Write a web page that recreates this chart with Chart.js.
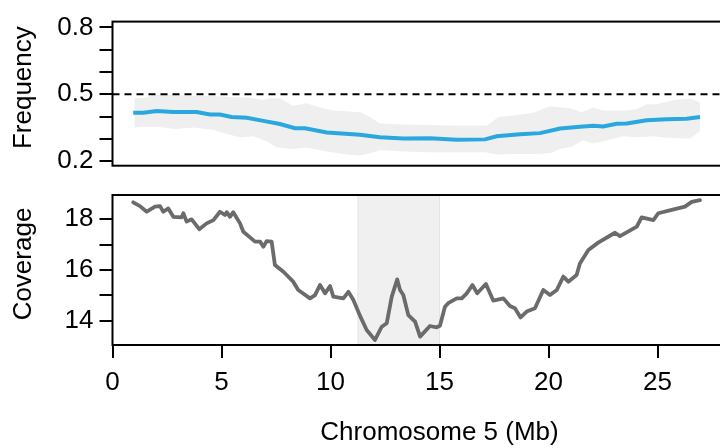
<!DOCTYPE html>
<html>
<head>
<meta charset="utf-8">
<script src="https://cdn.jsdelivr.net/npm/chart.js@4.4.1/dist/chart.umd.min.js"></script>
<style>
html,body{margin:0;padding:0;background:#fff;overflow:hidden;width:720px;height:448px;}
canvas{position:absolute;left:0;top:0;}
</style>
</head>
<body>
<canvas id="topChart" width="800" height="448"></canvas>
<canvas id="botChart" width="800" height="448"></canvas>
<script>
// ---------- data ----------
const X_TICKS = [0, 5, 10, 15, 20, 25];
const X_TITLE = 'Chromosome 5 (Mb)';

const FREQ_TITLE = 'Frequency';
const FREQ_TICKS = [0.2, 0.3, 0.4, 0.5, 0.6, 0.7, 0.8];
const FREQ_LABELED = [0.2, 0.5, 0.8];
const FREQ_THRESHOLD = 0.5;

const FREQ_X = [0.95,1.41,2.03,2.79,3.86,4.47,4.93,5.46,6.16,6.92,7.68,8.37,8.83,9.83,11.35,12.27,13.34,14.56,15.79,17.09,17.62,18.69,19.61,20.53,21.44,22.06,22.51,23.13,23.59,24.5,25.42,26.34,26.95];
const FREQ_MEAN = [0.417,0.417,0.425,0.421,0.421,0.410,0.409,0.398,0.395,0.381,0.367,0.348,0.348,0.329,0.319,0.308,0.302,0.303,0.296,0.298,0.312,0.321,0.326,0.347,0.355,0.359,0.356,0.368,0.369,0.384,0.388,0.391,0.398];

const BAND_UP_X = [1.0,1.41,2.03,2.79,3.4,4.93,5.54,6.3,6.92,7.22,7.68,8.29,8.9,9.52,10.12,11.35,11.81,12.27,13.34,14.56,15.79,17.17,17.7,18.39,19.3,20.07,20.99,21.52,22.06,22.51,23.59,24.05,24.5,24.97,25.88,26.49,26.95];
const BAND_UP = [0.484,0.484,0.499,0.499,0.494,0.491,0.487,0.485,0.474,0.484,0.481,0.449,0.460,0.441,0.427,0.420,0.398,0.369,0.365,0.362,0.359,0.359,0.398,0.405,0.417,0.446,0.437,0.420,0.441,0.427,0.427,0.434,0.455,0.455,0.477,0.481,0.463];

const BAND_LO_X = [1.0,1.41,2.03,2.94,3.7,4.62,5.23,5.85,6.46,7.07,7.53,8.29,8.9,9.83,10.75,11.35,11.81,12.27,13.34,14.56,15.79,17.09,17.62,18.54,19.61,20.14,20.53,21.06,21.59,22.06,22.51,23.43,24.05,24.81,25.42,26.49,26.95];
const BAND_LO = [0.351,0.355,0.355,0.345,0.351,0.341,0.322,0.308,0.312,0.290,0.262,0.255,0.262,0.244,0.230,0.226,0.236,0.250,0.244,0.240,0.240,0.240,0.230,0.233,0.232,0.238,0.255,0.265,0.294,0.279,0.290,0.312,0.308,0.312,0.305,0.302,0.334];

const COV_TITLE = 'Coverage';
const COV_TICKS = [14, 15, 16, 17, 18];
const COV_LABELED = [14, 16, 18];
const COV_REGION = [11.26, 15.0];

const COV_X = [0.95,1.26,1.57,1.95,2.18,2.33,2.56,2.79,3.17,3.25,3.40,3.63,3.98,4.32,4.63,4.93,5.16,5.24,5.39,5.54,5.85,6.00,6.54,6.77,6.92,7.07,7.30,7.45,7.84,8.29,8.52,9.06,9.29,9.52,9.75,9.98,10.13,10.59,10.82,11.05,11.35,11.66,12.04,12.35,12.58,12.81,13.06,13.19,13.34,13.57,13.88,14.11,14.56,14.87,15.02,15.25,15.40,15.79,16.02,16.25,16.51,16.73,17.13,17.47,17.93,18.23,18.46,18.72,19.00,19.38,19.76,20.07,20.38,20.68,20.91,21.29,21.44,21.83,22.28,23.05,23.28,24.05,24.27,24.81,25.04,25.65,26.26,26.57,26.95];
const COV = [18.67,18.52,18.30,18.50,18.52,18.30,18.43,18.10,18.08,18.24,17.91,18.00,17.61,17.84,17.97,18.30,18.17,18.28,18.10,18.28,17.84,17.51,17.12,17.12,16.92,17.14,17.12,16.20,15.93,15.54,15.21,14.88,15.01,15.41,15.08,15.37,14.95,14.88,15.14,14.82,14.20,13.63,13.24,13.76,13.90,14.95,15.63,15.21,15.01,14.22,13.96,13.37,13.79,13.74,13.80,14.55,14.69,14.88,14.88,15.08,15.41,15.08,15.45,14.79,14.88,14.58,14.49,14.13,14.36,14.49,15.21,15.01,15.21,15.74,15.54,15.80,16.26,16.79,17.08,17.47,17.34,17.71,18.08,17.97,18.24,18.37,18.50,18.69,18.76];

// ---------- helpers ----------
const pts = (xs, ys) => xs.map((x, i) => ({x: x, y: ys[i]}));
const FONT = {family: '"Liberation Sans", Arial, Helvetica, sans-serif', size: 26};
const X_MIN = 0, X_MAX = 30;

const boxPlugin = {
  id: 'boxPlugin',
  afterDraw(chart) {
    const a = chart.chartArea, ctx = chart.ctx;
    ctx.save();
    ctx.strokeStyle = '#000';
    ctx.lineWidth = 2;
    ctx.strokeRect(a.left, a.top, a.right - a.left, a.bottom - a.top);
    ctx.restore();
  }
};

// vertical y-axis title, drawn beside the panel
const yTitlePlugin = {
  id: 'yTitlePlugin',
  afterDraw(chart, args, opts) {
    if (!opts || !opts.text) return;
    const a = chart.chartArea, ctx = chart.ctx;
    ctx.save();
    ctx.fillStyle = '#000';
    ctx.font = FONT.size + 'px ' + FONT.family;
    ctx.textAlign = 'center';
    ctx.textBaseline = 'alphabetic';
    ctx.translate(31, (a.top + a.bottom) / 2 - 6);
    ctx.rotate(-Math.PI / 2);
    ctx.fillText(opts.text, 0, 0);
    ctx.restore();
  }
};

const regionPlugin = {
  id: 'regionPlugin',
  beforeDatasetsDraw(chart, args, opts) {
    if (!opts || !opts.range) return;
    const a = chart.chartArea, ctx = chart.ctx, xs = chart.scales.x;
    const x1 = xs.getPixelForValue(opts.range[0]);
    const x2 = xs.getPixelForValue(opts.range[1]);
    ctx.save();
    ctx.fillStyle = '#f0f0f0';
    ctx.fillRect(x1, a.top, x2 - x1, a.bottom - a.top);
    ctx.strokeStyle = '#e4e4e4';
    ctx.lineWidth = 1;
    ctx.beginPath();
    ctx.moveTo(x1, a.top); ctx.lineTo(x1, a.bottom);
    ctx.moveTo(x2, a.top); ctx.lineTo(x2, a.bottom);
    ctx.stroke();
    ctx.restore();
  }
};

function yAxis(ticks, labeled, min, max) {
  return {
    type: 'linear', position: 'left', min: min, max: max,
    afterFit(scale) { scale.width = 112.5; },
    afterBuildTicks(scale) { scale.ticks = ticks.map(v => ({value: v})); },
    ticks: {
      color: '#000', font: FONT, padding: 6, autoSkip: false,
      callback: (v) => labeled.some(l => Math.abs(l - v) < 1e-9) ? String(v) : ''
    },
    grid: {drawOnChartArea: false, drawTicks: true, tickLength: 13, color: '#000', lineWidth: 2},
    border: {display: false},
    title: {display: false}
  };
}

// ---------- top chart ----------
new Chart(document.getElementById('topChart'), {
  type: 'line',
  data: {
    datasets: [
      {data: pts(FREQ_X, FREQ_MEAN), borderColor: '#2aa7df', borderWidth: 4, pointRadius: 0, fill: false, order: 0, tension: 0},
      {data: [{x: X_MIN, y: FREQ_THRESHOLD}, {x: X_MAX, y: FREQ_THRESHOLD}], borderColor: '#000', borderWidth: 2, borderDash: [7, 5], pointRadius: 0, fill: false, order: 1},
      {data: pts(BAND_UP_X, BAND_UP), borderWidth: 0, borderColor: 'rgba(0,0,0,0)', backgroundColor: '#efefef', pointRadius: 0, fill: '+1', order: 2},
      {data: pts(BAND_LO_X, BAND_LO), borderWidth: 0, borderColor: 'rgba(0,0,0,0)', pointRadius: 0, fill: false, order: 3}
    ]
  },
  options: {
    responsive: false, animation: false, devicePixelRatio: 1,
    layout: {padding: {left: 0, right: 800 - 766.5, top: 15.7, bottom: 448 - 165.7}},
    plugins: {legend: {display: false}, tooltip: {enabled: false}, filler: {drawTime: 'beforeDatasetsDraw'}, yTitlePlugin: {text: FREQ_TITLE}},
    scales: {
      x: {type: 'linear', min: X_MIN, max: X_MAX, display: false},
      y: yAxis(FREQ_TICKS, FREQ_LABELED, 0.18, 0.826)
    }
  },
  plugins: [boxPlugin, yTitlePlugin]
});

// ---------- bottom chart ----------
new Chart(document.getElementById('botChart'), {
  type: 'line',
  data: {
    datasets: [
      {data: pts(COV_X, COV), borderColor: '#6b6b6b', borderWidth: 3.8, pointRadius: 0, fill: false, tension: 0, borderJoinStyle: 'round', borderCapStyle: 'round'}
    ]
  },
  options: {
    responsive: false, animation: false, devicePixelRatio: 1,
    layout: {padding: {left: 0, right: 800 - 766.5, top: 195, bottom: 0}},
    plugins: {legend: {display: false}, tooltip: {enabled: false}, regionPlugin: {range: COV_REGION}, yTitlePlugin: {text: COV_TITLE}},
    scales: {
      x: {
        type: 'linear', position: 'bottom', min: X_MIN, max: X_MAX,
        afterFit(scale) { scale.height = 448 - 345; },
        afterBuildTicks(scale) { scale.ticks = X_TICKS.map(v => ({value: v})); },
        ticks: {color: '#000', font: FONT, padding: 9, maxRotation: 0, autoSkip: false, callback: (v) => String(v)},
        grid: {drawOnChartArea: false, drawTicks: true, tickLength: 13, color: '#000', lineWidth: 2},
        border: {display: false},
        title: {display: true, text: X_TITLE, color: '#000', font: FONT, padding: {top: 0, bottom: 0}}
      },
      y: yAxis(COV_TICKS, COV_LABELED, 13.04, 18.96)
    }
  },
  plugins: [boxPlugin, regionPlugin, yTitlePlugin]
});
</script>
</body>
</html>
